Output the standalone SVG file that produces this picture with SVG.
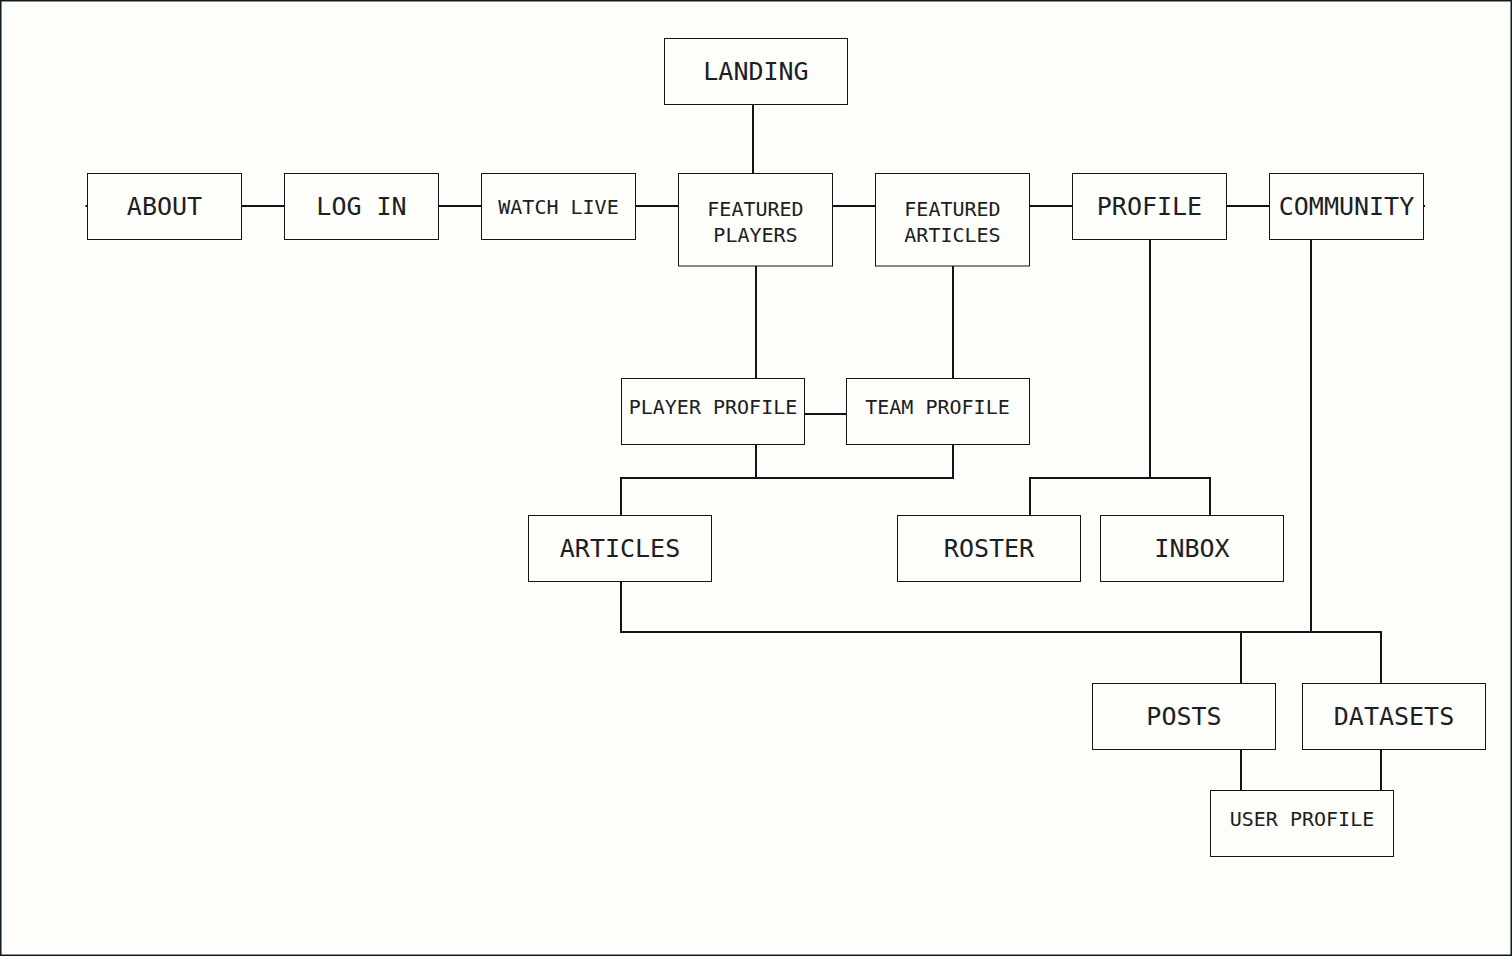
<svg xmlns="http://www.w3.org/2000/svg" width="1512" height="956" viewBox="0 0 1512 956">
<style>
.bg{fill:#fdfdf9}
.frame{fill:none;stroke:#0e1b22;stroke-width:1.5}
.box{fill:#fdfdf9;stroke:#111518;stroke-width:1}
.conn{fill:none;stroke:#111518;stroke-width:2}
text{font-family:"DejaVu Sans Mono","Liberation Mono",monospace;fill:#1b2024;text-anchor:middle}
.lg{font-size:25px}
.sm{font-size:20px}
</style>
<rect class="bg" x="0" y="0" width="1512" height="956"/>
<rect class="frame" x="0.75" y="0.75" width="1510.5" height="954.5"/>
<g id="connectors">
<path class="conn" d="M85.5 206H1425"/>
<path class="conn" d="M753 104.5V173.5"/>
<path class="conn" d="M756 266V378.5"/>
<path class="conn" d="M953 266V378.5"/>
<path class="conn" d="M804.5 414H846.5"/>
<path class="conn" d="M756 444.5V478M953 444.5V478H621V515.5"/>
<path class="conn" d="M1150 239.5V478M1030 515.5V478H1210V515.5"/>
<path class="conn" d="M621 581.5V632H1381V683.5M1311 239.5V632M1241 632V683.5"/>
<path class="conn" d="M1241 749.5V790.5M1381 749.5V790.5"/>
</g>
<g id="landing"><rect class="box" x="664.5" y="38.5" width="183" height="66"/><text class="lg" x="756" y="80">LANDING</text></g>
<g id="about"><rect class="box" x="87.5" y="173.5" width="154" height="66"/><text class="lg" x="164.5" y="215">ABOUT</text></g>
<g id="login"><rect class="box" x="284.5" y="173.5" width="154" height="66"/><text class="lg" x="361.5" y="215">LOG IN</text></g>
<g id="watch-live"><rect class="box" x="481.5" y="173.5" width="154" height="66"/><text class="sm" x="558.5" y="214">WATCH LIVE</text></g>
<g id="featured-players"><rect class="box" x="678.5" y="173.5" width="154" height="92.5"/><text class="sm" x="755.5" y="215.5">FEATURED</text><text class="sm" x="755.5" y="241.5">PLAYERS</text></g>
<g id="featured-articles"><rect class="box" x="875.5" y="173.5" width="154" height="92.5"/><text class="sm" x="952.5" y="215.5">FEATURED</text><text class="sm" x="952.5" y="241.5">ARTICLES</text></g>
<g id="profile"><rect class="box" x="1072.5" y="173.5" width="154" height="66"/><text class="lg" x="1149.5" y="215">PROFILE</text></g>
<g id="community"><rect class="box" x="1269.5" y="173.5" width="154" height="66"/><text class="lg" x="1346.5" y="215">COMMUNITY</text></g>
<g id="player-profile"><rect class="box" x="621.5" y="378.5" width="183" height="66"/><text class="sm" x="713" y="414.3">PLAYER PROFILE</text></g>
<g id="team-profile"><rect class="box" x="846.5" y="378.5" width="183" height="66"/><text class="sm" x="937.5" y="414.3">TEAM PROFILE</text></g>
<g id="articles"><rect class="box" x="528.5" y="515.5" width="183" height="66"/><text class="lg" x="620" y="557">ARTICLES</text></g>
<g id="roster"><rect class="box" x="897.5" y="515.5" width="183" height="66"/><text class="lg" x="989" y="557">ROSTER</text></g>
<g id="inbox"><rect class="box" x="1100.5" y="515.5" width="183" height="66"/><text class="lg" x="1192" y="557">INBOX</text></g>
<g id="posts"><rect class="box" x="1092.5" y="683.5" width="183" height="66"/><text class="lg" x="1184" y="725">POSTS</text></g>
<g id="datasets"><rect class="box" x="1302.5" y="683.5" width="183" height="66"/><text class="lg" x="1394" y="725">DATASETS</text></g>
<g id="user-profile"><rect class="box" x="1210.5" y="790.5" width="183" height="66"/><text class="sm" x="1302" y="826">USER PROFILE</text></g>
</svg>
